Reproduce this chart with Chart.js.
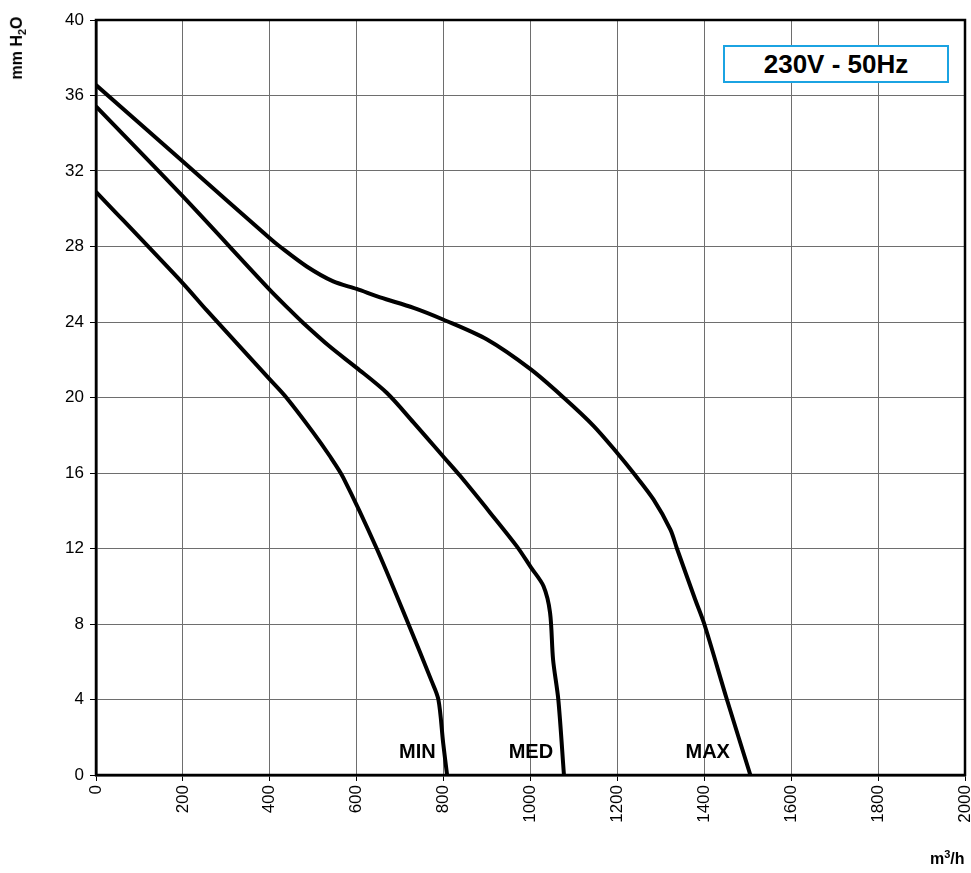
<!DOCTYPE html>
<html>
<head>
<meta charset="utf-8">
<script src="https://cdn.jsdelivr.net/npm/chart.js@4.4.1/dist/chart.umd.min.js"></script>
<style>
  html, body { margin: 0; padding: 0; background: #fff; }
  #wrap { position: relative; width: 971px; height: 873px; font-family: Arial, "Liberation Sans", sans-serif; }
  #yTitle { position: absolute; left: -22px; top: 38px; width: 80px; text-align: center; transform: rotate(-90deg);
            font-weight: bold; font-size: 16px; white-space: nowrap; }
  #yTitle sub { font-size: 11px; }
  #xTitle { position: absolute; left: 930px; top: 848px; font-weight: bold; font-size: 16px; white-space: nowrap; }
  #xTitle sup { font-size: 11px; }
  #badge { position: absolute; left: 723px; top: 45px; width: 222px; height: 34px; border: 2px solid #1ba3e2;
           background: #fff; text-align: center; line-height: 35px; font-weight: bold; font-size: 26px; }
</style>
</head>
<body>
<div id="wrap">
  <canvas id="c" width="971" height="873"></canvas>
  <div id="yTitle">mm H<sub>2</sub>O</div>
  <div id="xTitle">m<sup>3</sup>/h</div>
  <div id="badge">230V - 50Hz</div>
</div>
<script>
// flow (m3/h) vs pressure (mm H2O)
const maxFlow = [0, 200, 400, 423, 485, 546, 600, 654, 731, 800, 900, 1000, 1076, 1145, 1200, 1237, 1283, 1322, 1337, 1379, 1400, 1452, 1506];
const maxPress = [36.55, 32.5, 28.44, 28.0, 26.94, 26.15, 25.75, 25.3, 24.75, 24.12, 23.07, 21.5, 20.0, 18.5, 17.05, 16.0, 14.6, 13.0, 12.0, 9.3, 8.0, 4.0, 0];

const medFlow = [0, 200, 400, 446, 477, 538, 600, 669, 731, 800, 838, 907, 969, 1001, 1030, 1045, 1052, 1064, 1077];
const medPress = [35.42, 30.65, 25.7, 24.64, 23.95, 22.7, 21.57, 20.25, 18.67, 16.85, 15.85, 13.9, 12.1, 11.0, 10.0, 8.6, 6.1, 4.0, 0];

const minFlow = [0, 200, 254, 400, 438, 500, 538, 569, 646, 719, 772, 788, 799, 808];
const minPress = [30.9, 26.05, 24.64, 20.96, 20.0, 18.14, 16.9, 15.76, 12.0, 8.0, 5.0, 4.0, 1.7, 0];

const speedLabels = ['MIN', 'MED', 'MAX'];
const labelFlow = [782, 1052, 1459];   // right edge of each speed name
const labelPress = [0.9, 0.9, 0.9];

const toPoints = (xs, ys) => xs.map((x, i) => ({ x: x, y: ys[i] }));

const curve = (xs, ys) => ({
  data: toPoints(xs, ys),
  borderColor: '#000',
  borderWidth: 4,
  pointRadius: 0,
  fill: false,
  tension: 0.3
});

const frame = {
  id: 'frame',
  afterDraw(chart) {
    const ctx = chart.ctx;
    const a = chart.chartArea;
    ctx.save();
    ctx.strokeStyle = '#000';
    ctx.lineWidth = 2.5;
    ctx.strokeRect(a.left, a.top, a.right - a.left, a.bottom - a.top);
    ctx.fillStyle = '#000';
    ctx.font = 'bold 20px Arial, "Liberation Sans", sans-serif';
    ctx.textAlign = 'right';
    ctx.textBaseline = 'alphabetic';
    const xs = chart.scales.x, ys = chart.scales.y;
    speedLabels.forEach((t, i) => {
      ctx.fillText(t, xs.getPixelForValue(labelFlow[i]), ys.getPixelForValue(labelPress[i]));
    });
    ctx.restore();
  }
};

const tickFont = { size: 17, family: 'Arial, "Liberation Sans", sans-serif' };

new Chart(document.getElementById('c'), {
  type: 'line',
  data: {
    datasets: [curve(maxFlow, maxPress), curve(medFlow, medPress), curve(minFlow, minPress)]
  },
  options: {
    responsive: false,
    animation: false,
    layout: { padding: { left: 0, right: 6, top: 20, bottom: 38 } },
    plugins: { legend: { display: false }, tooltip: { enabled: false } },
    scales: {
      x: {
        type: 'linear', min: 0, max: 2000,
        ticks: { stepSize: 200, color: '#000', font: tickFont, maxRotation: 90, minRotation: 90, padding: 4,
                 callback: v => String(v) },
        grid: { color: '#6e6e6e', lineWidth: 1, tickColor: '#000', tickLength: 6 },
        border: { color: '#000', width: 2.5 },
        afterFit(s) { s.height = 60; s.paddingLeft = 0; s.paddingRight = 0; }
      },
      y: {
        min: 0, max: 40,
        ticks: { stepSize: 4, color: '#000', font: tickFont, padding: 6 },
        grid: { color: '#6e6e6e', lineWidth: 1, tickColor: '#000', tickLength: 6 },
        border: { color: '#000', width: 2.5 },
        afterFit(s) { s.width = 96; s.paddingTop = 0; s.paddingBottom = 0; }
      }
    }
  },
  plugins: [frame]
});
</script>
</body>
</html>
